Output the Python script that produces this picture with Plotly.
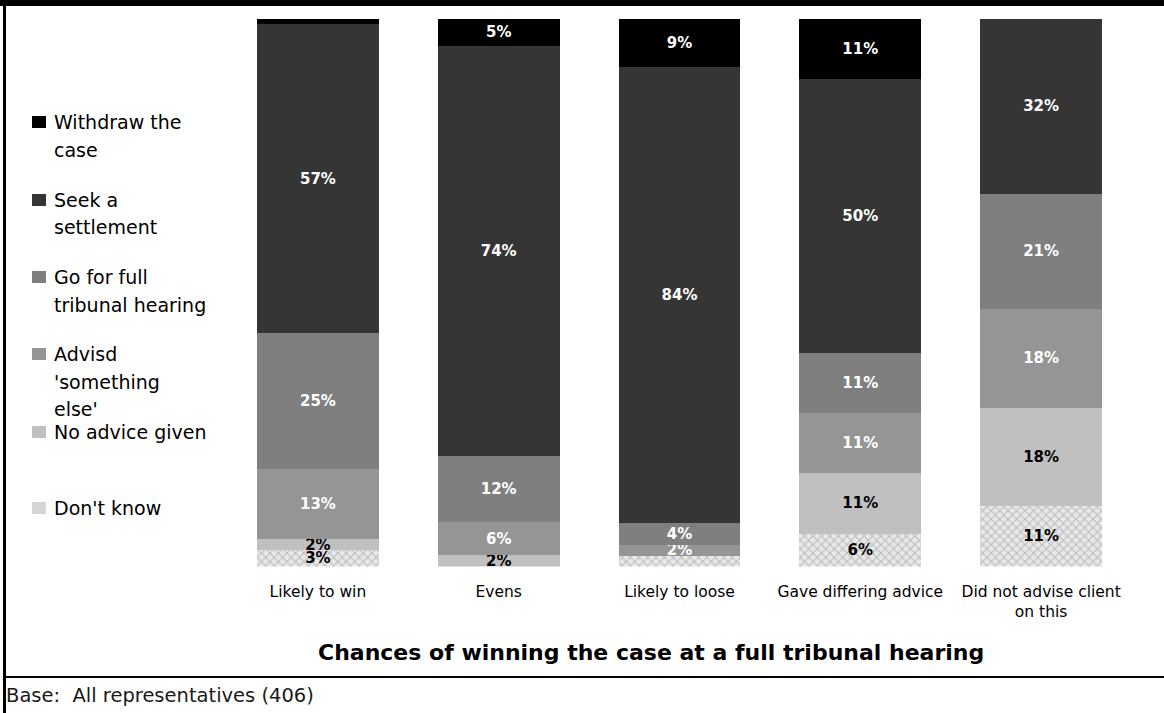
import plotly.graph_objects as go

# Categories along the x axis
categories = [
    "Likely to win",
    "Evens",
    "Likely to loose",
    "Gave differing advice",
    "Did not advise client<br>on this",
]

# Percentages per advice type (stack order: bottom to top)
dont_know = [3, 0, 2, 6, 11]
no_advice = [2, 2, 0, 11, 18]
something_else = [13, 6, 2, 11, 18]
full_hearing = [25, 12, 4, 11, 21]
settlement = [57, 74, 84, 50, 32]
withdraw = [1, 5, 9, 11, 0]

# Which values carry a printed label
dont_know_labels = [True, False, False, True, True]
no_advice_labels = [True, True, False, True, True]
something_else_labels = [True, True, True, True, True]
full_hearing_labels = [True, True, True, True, True]
settlement_labels = [True, True, True, True, True]
withdraw_labels = [False, True, True, True, False]

FONT = "DejaVu Sans, Verdana, sans-serif"

series = [
    ("Don't know", dont_know, dont_know_labels, "#e4e4e4", "black"),
    ("No advice given", no_advice, no_advice_labels, "#c0c0c0", "black"),
    ("Advisd 'something else'", something_else, something_else_labels, "#959595", "white"),
    ("Go for full tribunal hearing", full_hearing, full_hearing_labels, "#7f7f7f", "white"),
    ("Seek a settlement", settlement, settlement_labels, "#353535", "white"),
    ("Withdraw the case", withdraw, withdraw_labels, "#000000", "white"),
]

fig = go.Figure()
for name, vals, show, color, tcolor in series:
    texts = [f"{v}%" if s and v else "" for v, s in zip(vals, show)]
    marker = dict(color=color, line=dict(width=0))
    if name == "Don't know":
        marker["pattern"] = dict(shape="x", fgcolor="#bdbdbd", bgcolor="#e8e8e8",
                                 size=6, solidity=0.35, fillmode="replace")
    fig.add_trace(go.Bar(
        x=categories, y=vals, name=name, marker=marker,
        text=texts, textposition="inside", insidetextanchor="middle",
        textangle=0, constraintext="none",
        textfont=dict(family=FONT, size=15, color=tcolor, weight="bold"),
        hoverinfo="skip", showlegend=False,
    ))

W, H = 1164, 713


def px_x(x):
    return x / W


def px_y(y):
    return 1 - y / H


fig.update_layout(
    width=W, height=H,
    barmode="stack", barnorm="percent", bargap=0.326,
    margin=dict(l=0, r=0, t=0, b=0),
    paper_bgcolor="white", plot_bgcolor="white",
    uniformtext=dict(minsize=15, mode="show"),
    xaxis=dict(
        domain=[px_x(227.5), px_x(1131.5)],
        showline=False, showgrid=False, zeroline=False,
        ticks="", ticklabelstandoff=14,
        tickfont=dict(family=FONT, size=15.5, color="black"),
    ),
    yaxis=dict(
        domain=[px_y(566.5), px_y(18.5)], range=[0, 100],
        visible=False, fixedrange=True,
    ),
    font=dict(family=FONT),
)

# Axis title under the category labels
fig.add_annotation(
    text="<b>Chances of winning the case at a full tribunal hearing</b>",
    xref="paper", yref="paper", x=px_x(651), y=px_y(652),
    xanchor="center", yanchor="middle", showarrow=False,
    font=dict(family=FONT, size=22, color="black"),
)

# Legend drawn as swatches and wrapped text lines
legend_items = [
    ("#000000", 122, ["Withdraw the", "case"]),
    ("#353535", 200, ["Seek a", "settlement"]),
    ("#7f7f7f", 277, ["Go for full", "tribunal hearing"]),
    ("#959595", 354, ["Advisd", "'something", "else'"]),
    ("#c0c0c0", 432, ["No advice given"]),
    ("#d6d6d6", 508, ["Don't know"]),
]
for color, yc, lines in legend_items:
    fig.add_shape(type="rect", xref="paper", yref="paper",
                  x0=px_x(32), x1=px_x(46), y0=px_y(yc + 6), y1=px_y(yc - 6),
                  fillcolor=color, line=dict(width=0))
    for i, line in enumerate(lines):
        fig.add_annotation(
            text=line, xref="paper", yref="paper",
            x=px_x(52), y=px_y(yc + i * 27.5),
            xanchor="left", yanchor="middle", showarrow=False,
            font=dict(family=FONT, size=19, color="black"),
        )

# Frame: thick top band, left border, separator above the footnote
fig.add_shape(type="rect", xref="paper", yref="paper",
              x0=0, x1=1, y0=px_y(6), y1=1,
              fillcolor="black", line=dict(width=0))
fig.add_shape(type="rect", xref="paper", yref="paper",
              x0=px_x(3), x1=px_x(6), y0=0, y1=1,
              fillcolor="black", line=dict(width=0))
fig.add_shape(type="rect", xref="paper", yref="paper",
              x0=px_x(3), x1=1, y0=px_y(678), y1=px_y(676),
              fillcolor="black", line=dict(width=0))

fig.add_annotation(
    text="Base:  All representatives (406)",
    xref="paper", yref="paper", x=px_x(4), y=px_y(695),
    xanchor="left", yanchor="middle", showarrow=False,
    font=dict(family=FONT, size=19.5, color="#1a1a1a"),
)

fig.write_html("out.html")
